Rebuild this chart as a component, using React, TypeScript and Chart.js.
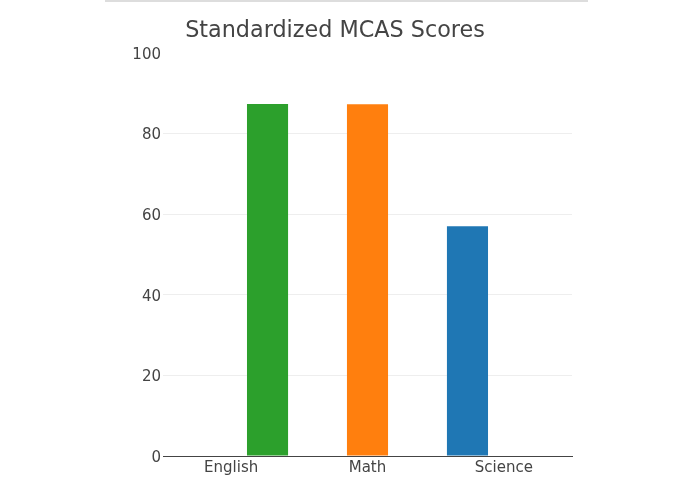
import { useEffect, useRef } from 'react'
import { Chart, registerables } from 'chart.js'

Chart.register(...registerables)

const subjects = ['English', 'Math', 'Science']
// one trace per subject, plotly-style order (blue, orange, green)
const scienceScores = [null, null, 57]
const mathScores = [null, 87.2, null]
const englishScores = [87.3, null, null]
const yTicks = [0, 20, 40, 60, 80, 100]

const FONT = '"DejaVu Sans", Verdana, sans-serif'
const TEXT = '#444444'

export default function App() {
  const canvasRef = useRef<HTMLCanvasElement>(null)

  useEffect(() => {
    if (!canvasRef.current) return
    document.body.style.margin = '0'

    const bar = {
      categoryPercentage: 0.8,
      barPercentage: 1.13,
      borderWidth: 0,
    }

    const chart = new Chart(canvasRef.current, {
      type: 'bar',
      data: {
        labels: subjects,
        datasets: [
          { label: 'Science', data: scienceScores, backgroundColor: '#1f77b4', ...bar },
          { label: 'Math', data: mathScores, backgroundColor: '#ff7f0e', ...bar },
          { label: 'English', data: englishScores, backgroundColor: '#2ca02c', ...bar },
        ],
      },
      options: {
        animation: false,
        responsive: false,
        maintainAspectRatio: false,
        // left padding keeps the title centred on the page, not the plot
        layout: { padding: { left: 98, right: 123, top: 0, bottom: 0 } },
        plugins: {
          legend: { display: false },
          tooltip: { enabled: false },
          title: {
            display: true,
            text: 'Standardized MCAS Scores',
            color: TEXT,
            font: { family: FONT, size: 22.3, weight: 'normal' },
            padding: { top: 18, bottom: 8 },
          },
        },
        scales: {
          x: {
            grid: { display: false, drawTicks: false },
            border: { display: true, color: TEXT, width: 1 },
            ticks: { color: TEXT, font: { family: FONT, size: 15 }, padding: 3 },
            afterFit: (scale: any) => { scale.height = 38 },
          },
          y: {
            min: 0,
            max: 100,
            afterBuildTicks: (scale: any) => { scale.ticks = yTicks.map((v) => ({ value: v })) },
            grid: {
              drawTicks: false,
              color: (ctx: any) => (ctx.tick && ctx.tick.value === 100 ? 'rgba(0,0,0,0)' : '#eeeeee'),
              lineWidth: 1,
            },
            border: { display: false },
            ticks: { color: TEXT, font: { family: FONT, size: 15 }, padding: 2, labelOffset: 2 },
            afterFit: (scale: any) => { scale.width = 65 },
          },
        },
      },
    })

    return () => { chart.destroy() }
  }, [])

  return (
    <div style={{ position: 'relative', width: 695, height: 494, background: '#fff' }}>
      <div style={{ position: 'absolute', left: 105, top: 0, width: 483, height: 2, background: '#dddddd' }} />
      <canvas ref={canvasRef} width={695} height={494} style={{ position: 'absolute', left: 0, top: 0 }} />
    </div>
  )
}
